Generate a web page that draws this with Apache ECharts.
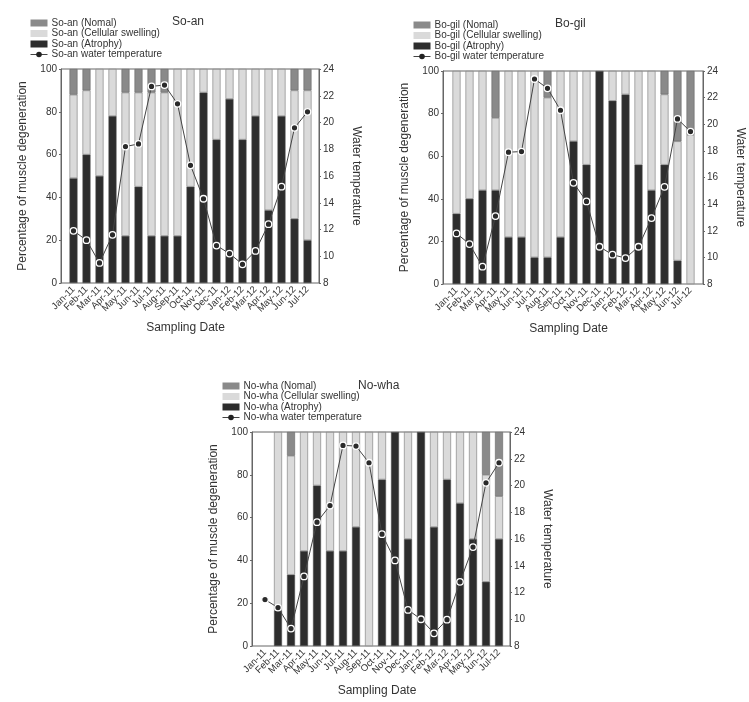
<!DOCTYPE html>
<html>
<head>
<meta charset="utf-8">
<script src="https://cdn.jsdelivr.net/npm/echarts@6/dist/echarts.min.js"></script>
<style>
html,body{margin:0;padding:0;background:#fff;}
#chart{width:749px;height:702px;}
</style>
</head>
<body>
<div id="chart"></div>
<script>
// ---------- DATA ----------
var categories = ['Jan-11','Feb-11','Mar-11','Apr-11','May-11','Jun-11','Jul-11','Aug-11','Sep-11','Oct-11','Nov-11','Dec-11','Jan-12','Feb-12','Mar-12','Apr-12','May-12','Jun-12','Jul-12'];
var leftTicks = [0, 20, 40, 60, 80, 100];
var rightTicks = [8, 10, 12, 14, 16, 18, 20, 22, 24];

var soanAtrophy  = [49,60,50,78,22,45,22,22,22,45,89,67,86,67,78,34,78,30,20];
var soanSwelling = [39,30,50,22,67,44,67,67,78,55,11,33,14,33,22,66,22,60,70];
var soanNomal    = [12,10, 0, 0,11,11,11,11, 0, 0, 0, 0, 0, 0, 0, 0, 0,10,10];
var soanTemp     = [11.9,11.2,9.5,11.6,18.2,18.4,22.7,22.8,21.4,16.8,14.3,10.8,10.2,9.4,10.4,12.4,15.2,19.6,20.8];

var bogilAtrophy  = [33,40,44,44,22,22,12.5,12.5,22,67,56,100,86,89,56,44,56,11,0];
var bogilSwelling = [67,60,56,34,78,78,87.5,75,78,33,44,0,14,11,44,56,33,56,70];
var bogilNomal    = [0,0,0,22,0,0,0,12.5,0,0,0,0,0,0,0,0,11,33,30];
var bogilTemp     = [11.8,11.0,9.3,13.1,17.9,17.95,23.4,22.7,21.05,15.6,14.2,10.8,10.2,9.95,10.8,12.95,15.3,20.4,19.45];

var nowhaAtrophy  = [0,16.7,33.3,44.4,75,44.4,44.4,55.6,0,77.8,100,50,100,55.6,77.8,66.7,50,30,50];
var nowhaSwelling = [0,83.3,55.6,55.6,25,55.6,55.6,44.4,100,22.2,0,50,0,44.4,22.2,33.3,50,50,20];
var nowhaNomal    = [0,0,11.1,0,0,0,0,0,0,0,0,0,0,0,0,0,0,20,30];
var nowhaTemp     = [11.47,10.87,9.3,13.2,17.26,18.5,23.0,22.95,21.7,16.36,14.4,10.7,10.0,8.95,9.97,12.8,15.4,20.2,21.7];

// ---------- LAYOUT / STYLE ----------
var panels = [
  {site:'So-an', atrophy:soanAtrophy, swelling:soanSwelling, nomal:soanNomal, temp:soanTemp,
   frame:{left:61, top:69, width:258, height:214}, data:{left:67, width:247},
   legend:{left:30, top:18}, title:{left:172, top:16}},
  {site:'Bo-gil', atrophy:bogilAtrophy, swelling:bogilSwelling, nomal:bogilNomal, temp:bogilTemp,
   frame:{left:443, top:71, width:260, height:213}, data:{left:450, width:247},
   legend:{left:413, top:20}, title:{left:555, top:18}},
  {site:'No-wha', atrophy:nowhaAtrophy, swelling:nowhaSwelling, nomal:nowhaNomal, temp:nowhaTemp,
   frame:{left:252, top:432, width:258, height:214}, data:{left:258.5, width:247},
   legend:{left:222, top:381}, title:{left:358, top:380}}
];

var FONT = 'Liberation Sans, Arial, sans-serif';
var TXT = '#333';
var LINE = '#666';
var C_ATR = '#2d2d2d', C_SWE = '#dadada', C_NOM = '#8a8a8a';

function nz(arr){ return arr.map(function(v){ return v === 0 ? null : v; }); }

var option = {
  animation:false,
  backgroundColor:'#fff',
  textStyle:{fontFamily:FONT},
  title:[], legend:[], grid:[], xAxis:[], yAxis:[], series:[]
};

panels.forEach(function(p, i){
  var gF = 2*i, gD = 2*i+1;
  option.grid.push({left:p.frame.left, top:p.frame.top, width:p.frame.width, height:p.frame.height,
    show:true, borderColor:LINE, borderWidth:1, backgroundColor:'transparent', containLabel:false});
  option.grid.push({left:p.data.left, top:p.frame.top, width:p.data.width, height:p.frame.height, containLabel:false});

  option.title.push({text:p.site, left:p.title.left, top:p.title.top, padding:0,
    textStyle:{fontFamily:FONT, fontSize:12, fontWeight:'normal', color:TXT}});

  option.legend.push({
    data:[
      {name:p.site+' (Nomal)', icon:'rect', itemStyle:{borderWidth:0}},
      {name:p.site+' (Cellular swelling)', icon:'rect', itemStyle:{borderWidth:0}},
      {name:p.site+' (Atrophy)', icon:'rect', itemStyle:{borderWidth:0}},
      {name:p.site+' water temperature', itemStyle:{borderWidth:0, color:'#222'}, lineStyle:{type:'solid', width:1, color:'#444'}}
    ],
    orient:'vertical', left:p.legend.left, top:p.legend.top, padding:0,
    itemWidth:17, itemHeight:7, itemGap:0.5, selectedMode:false,
    textStyle:{fontFamily:FONT, fontSize:10, color:TXT, lineHeight:10, padding:[0,0,0,-1]}
  });

  option.xAxis.push({type:'value', gridIndex:gF, show:false, min:0, max:1});
  option.xAxis.push({type:'category', gridIndex:gD, data:categories, boundaryGap:true,
    axisLine:{show:false}, axisTick:{show:false},
    axisLabel:{interval:0, rotate:45, fontSize:9.5, margin:5, color:TXT, fontFamily:FONT},
    name:'Sampling Date', nameLocation:'middle', nameGap:39,
    nameTextStyle:{fontFamily:FONT, fontSize:12, color:TXT, padding:[0,10,0,0]}});

  option.yAxis.push({type:'value', gridIndex:gF, position:'left', min:leftTicks[0], max:leftTicks[leftTicks.length-1],
    interval:leftTicks[1]-leftTicks[0],
    axisLine:{show:true, lineStyle:{color:LINE}}, axisTick:{show:true, length:2, lineStyle:{color:LINE}},
    axisLabel:{fontSize:10, color:TXT, margin:4, fontFamily:FONT}, splitLine:{show:false},
    name:'Percentage of muscle degeneration', nameLocation:'middle', nameGap:32, nameRotate:90,
    nameTextStyle:{fontFamily:FONT, fontSize:12, color:TXT}});
  option.yAxis.push({type:'value', gridIndex:gF, position:'right', min:rightTicks[0], max:rightTicks[rightTicks.length-1],
    interval:rightTicks[1]-rightTicks[0],
    axisLine:{show:true, lineStyle:{color:LINE}}, axisTick:{show:true, length:2, lineStyle:{color:LINE}},
    axisLabel:{fontSize:10, color:TXT, margin:4, fontFamily:FONT}, splitLine:{show:false},
    name:'Water temperature', nameLocation:'middle', nameGap:31, nameRotate:-90,
    nameTextStyle:{fontFamily:FONT, fontSize:12, color:TXT}});
  option.yAxis.push({type:'value', gridIndex:gD, show:false, min:leftTicks[0], max:leftTicks[leftTicks.length-1], splitLine:{show:false}});
  option.yAxis.push({type:'value', gridIndex:gD, show:false, min:rightTicks[0], max:rightTicks[rightTicks.length-1], splitLine:{show:false}});

  var xi = gD, yl = 4*i+2, yr = 4*i+3;
  var barCommon = {type:'bar', xAxisIndex:xi, yAxisIndex:yl, stack:'s'+i, barWidth:8};
  option.series.push(Object.assign({}, barCommon, {name:p.site+' (Atrophy)', data:nz(p.atrophy),
    itemStyle:{color:C_ATR, borderColor:'#555', borderWidth:0.5}}));
  option.series.push(Object.assign({}, barCommon, {name:p.site+' (Cellular swelling)', data:nz(p.swelling),
    itemStyle:{color:C_SWE, borderColor:'#777', borderWidth:0.6}}));
  option.series.push(Object.assign({}, barCommon, {name:p.site+' (Nomal)', data:nz(p.nomal),
    itemStyle:{color:C_NOM, borderColor:'#666', borderWidth:0.6}}));
  option.series.push({type:'line', name:p.site+' water temperature', xAxisIndex:xi, yAxisIndex:yr,
    data:p.temp, symbol:'circle', symbolSize:6.5, z:5,
    lineStyle:{color:'#444', width:1},
    itemStyle:{color:'#2a2a2a', borderColor:'#fff', borderWidth:1.3}});
});

var chart = echarts.init(document.getElementById('chart'), null, {renderer:'canvas'});
chart.setOption(option);
</script>
</body>
</html>
